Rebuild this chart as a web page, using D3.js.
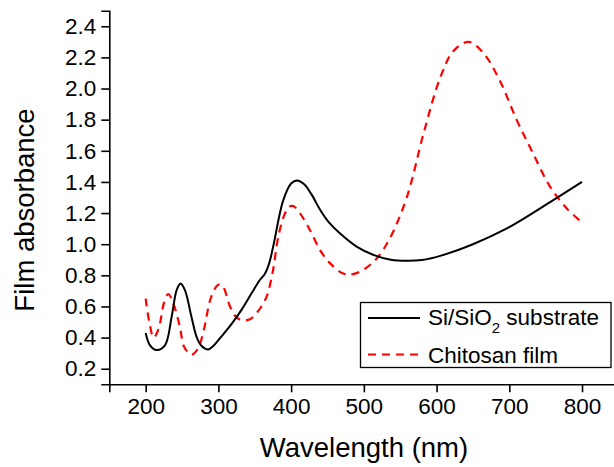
<!DOCTYPE html>
<html>
<head>
<meta charset="utf-8">
<script src="https://cdn.jsdelivr.net/npm/d3@7"></script>
<style>
  html, body { margin: 0; padding: 0; background: #fff; }
  svg { display: block; }
  text { font-family: "Liberation Sans", Arial, sans-serif; fill: #000; }
</style>
</head>
<body>
<svg id="chart" width="614" height="467"></svg>
<script>
// ---- data ----
const substrateWavelength = [200, 206, 215, 226.5, 235.7, 242.6, 248, 254, 263, 270, 277, 286, 293, 300, 310, 320, 332, 345, 357, 364, 370, 376, 389, 400, 408, 418, 428, 440, 452, 467, 490, 515, 537, 559, 580, 605, 650, 696, 742, 800];
const substrateAbsorbance = [0.43, 0.35, 0.32, 0.35, 0.533, 0.705, 0.748, 0.705, 0.533, 0.405, 0.346, 0.324, 0.346, 0.384, 0.44, 0.50, 0.58, 0.68, 0.77, 0.81, 0.88, 1.00, 1.28, 1.39, 1.41, 1.385, 1.32, 1.22, 1.14, 1.07, 0.985, 0.928, 0.90, 0.893, 0.898, 0.925, 1.0, 1.10, 1.229, 1.40];

const chitosanWavelength = [200, 205, 211, 218, 225, 231, 238, 247, 253, 263, 272, 280, 290, 300, 306, 316, 325, 334, 344, 353, 366, 375, 382, 390, 397, 403, 412, 426, 440, 453, 470, 481, 499, 518, 536, 559, 582, 605, 623, 644, 664, 687, 710, 733, 756, 779, 800];
const chitosanAbsorbance = [0.65, 0.50, 0.40, 0.46, 0.62, 0.68, 0.62, 0.47, 0.34, 0.29, 0.33, 0.45, 0.66, 0.74, 0.73, 0.60, 0.53, 0.51, 0.52, 0.56, 0.66, 0.83, 1.04, 1.18, 1.24, 1.245, 1.20, 1.09, 0.96, 0.88, 0.815, 0.805, 0.835, 0.91, 1.04, 1.30, 1.71, 2.07, 2.24, 2.30, 2.23, 2.05, 1.80, 1.58, 1.37, 1.23, 1.14];

const xTickValues = [200, 300, 400, 500, 600, 700, 800];
const xMinorTickValues = [150, 250, 350, 450, 550, 650, 750];
const yTickValues = [0.2, 0.4, 0.6, 0.8, 1.0, 1.2, 1.4, 1.6, 1.8, 2.0, 2.2, 2.4];
const yMinorTickValues = [0.1, 0.3, 0.5, 0.7, 0.9, 1.1, 1.3, 1.5, 1.7, 1.9, 2.1, 2.3, 2.5];

const seriesNames = ["Si/SiO", "Chitosan film"];
const xTitle = "Wavelength (nm)";
const yTitle = "Film absorbance";

// ---- layout ----
const svg = d3.select("#chart");
const x = d3.scaleLinear().domain([150, 850]).range([109.3, 618.4]);
const y = d3.scaleLinear().domain([0.1, 2.5]).range([384.3, 10.7]);

const tickFont = 22.5;

// x axis
const gx = svg.append("g").attr("transform", `translate(0,${y(0.1)})`);
gx.call(d3.axisBottom(x).tickValues(xMinorTickValues).tickSize(4).tickFormat(""));
gx.call(d3.axisBottom(x).tickValues(xTickValues).tickSize(8).tickPadding(5.5).tickFormat(d3.format("d")));
gx.selectAll("path.domain").attr("stroke-width", 1.6);
gx.selectAll("line").attr("stroke-width", 1.6);
gx.selectAll("text").style("font-size", tickFont + "px").style("font-family", "Liberation Sans, Arial, sans-serif");

// y axis
const gy = svg.append("g").attr("transform", `translate(${x(150)},0)`);
gy.call(d3.axisLeft(y).tickValues(yMinorTickValues).tickSize(4).tickFormat(""));
gy.call(d3.axisLeft(y).tickValues(yTickValues).tickSize(8).tickPadding(5).tickFormat(d3.format(".1f")));
gy.selectAll("path.domain").attr("stroke-width", 1.6);
gy.selectAll("line").attr("stroke-width", 1.6);
gy.selectAll("text").style("font-size", tickFont + "px").style("font-family", "Liberation Sans, Arial, sans-serif");

// titles
svg.append("text")
  .attr("x", 364).attr("y", 456.5)
  .attr("text-anchor", "middle")
  .style("font-size", "27.5px")
  .text(xTitle);

svg.append("text")
  .attr("transform", "translate(33.5,210) rotate(-90)")
  .attr("text-anchor", "middle")
  .style("font-size", "27.5px")
  .text(yTitle);

// lines
const line = d3.line()
  .x(d => x(d[0]))
  .y(d => y(d[1]))
  .curve(d3.curveCatmullRom.alpha(0.5));

const substrate = substrateWavelength.map((w, i) => [w, substrateAbsorbance[i]]);
const chitosan = chitosanWavelength.map((w, i) => [w, chitosanAbsorbance[i]]);

svg.append("path")
  .datum(chitosan)
  .attr("d", line)
  .attr("fill", "none")
  .attr("stroke", "#ff0000")
  .attr("stroke-width", 2.2)
  .attr("stroke-dasharray", "8,6");

svg.append("path")
  .datum(substrate)
  .attr("d", line)
  .attr("fill", "none")
  .attr("stroke", "#000")
  .attr("stroke-width", 2);

// legend
const lg = svg.append("g");
lg.append("rect")
  .attr("x", 360.5).attr("y", 302.5)
  .attr("width", 250.5).attr("height", 65)
  .attr("fill", "#fff").attr("stroke", "#000").attr("stroke-width", 1.3);

lg.append("line")
  .attr("x1", 368).attr("x2", 420).attr("y1", 318).attr("y2", 318)
  .attr("stroke", "#000").attr("stroke-width", 2);
const t1 = lg.append("text").attr("x", 428).attr("y", 325).style("font-size", "22.5px");
t1.append("tspan").text(seriesNames[0]);
t1.append("tspan").attr("dy", 8).style("font-size", "15px").text("2");
t1.append("tspan").attr("dy", -8).text(" substrate");

lg.append("line")
  .attr("x1", 368).attr("x2", 420).attr("y1", 354.5).attr("y2", 354.5)
  .attr("stroke", "#ff0000").attr("stroke-width", 2.2).attr("stroke-dasharray", "8,6");
lg.append("text").attr("x", 428).attr("y", 362.7).style("font-size", "22.5px").text(seriesNames[1]);
</script>
</body>
</html>
